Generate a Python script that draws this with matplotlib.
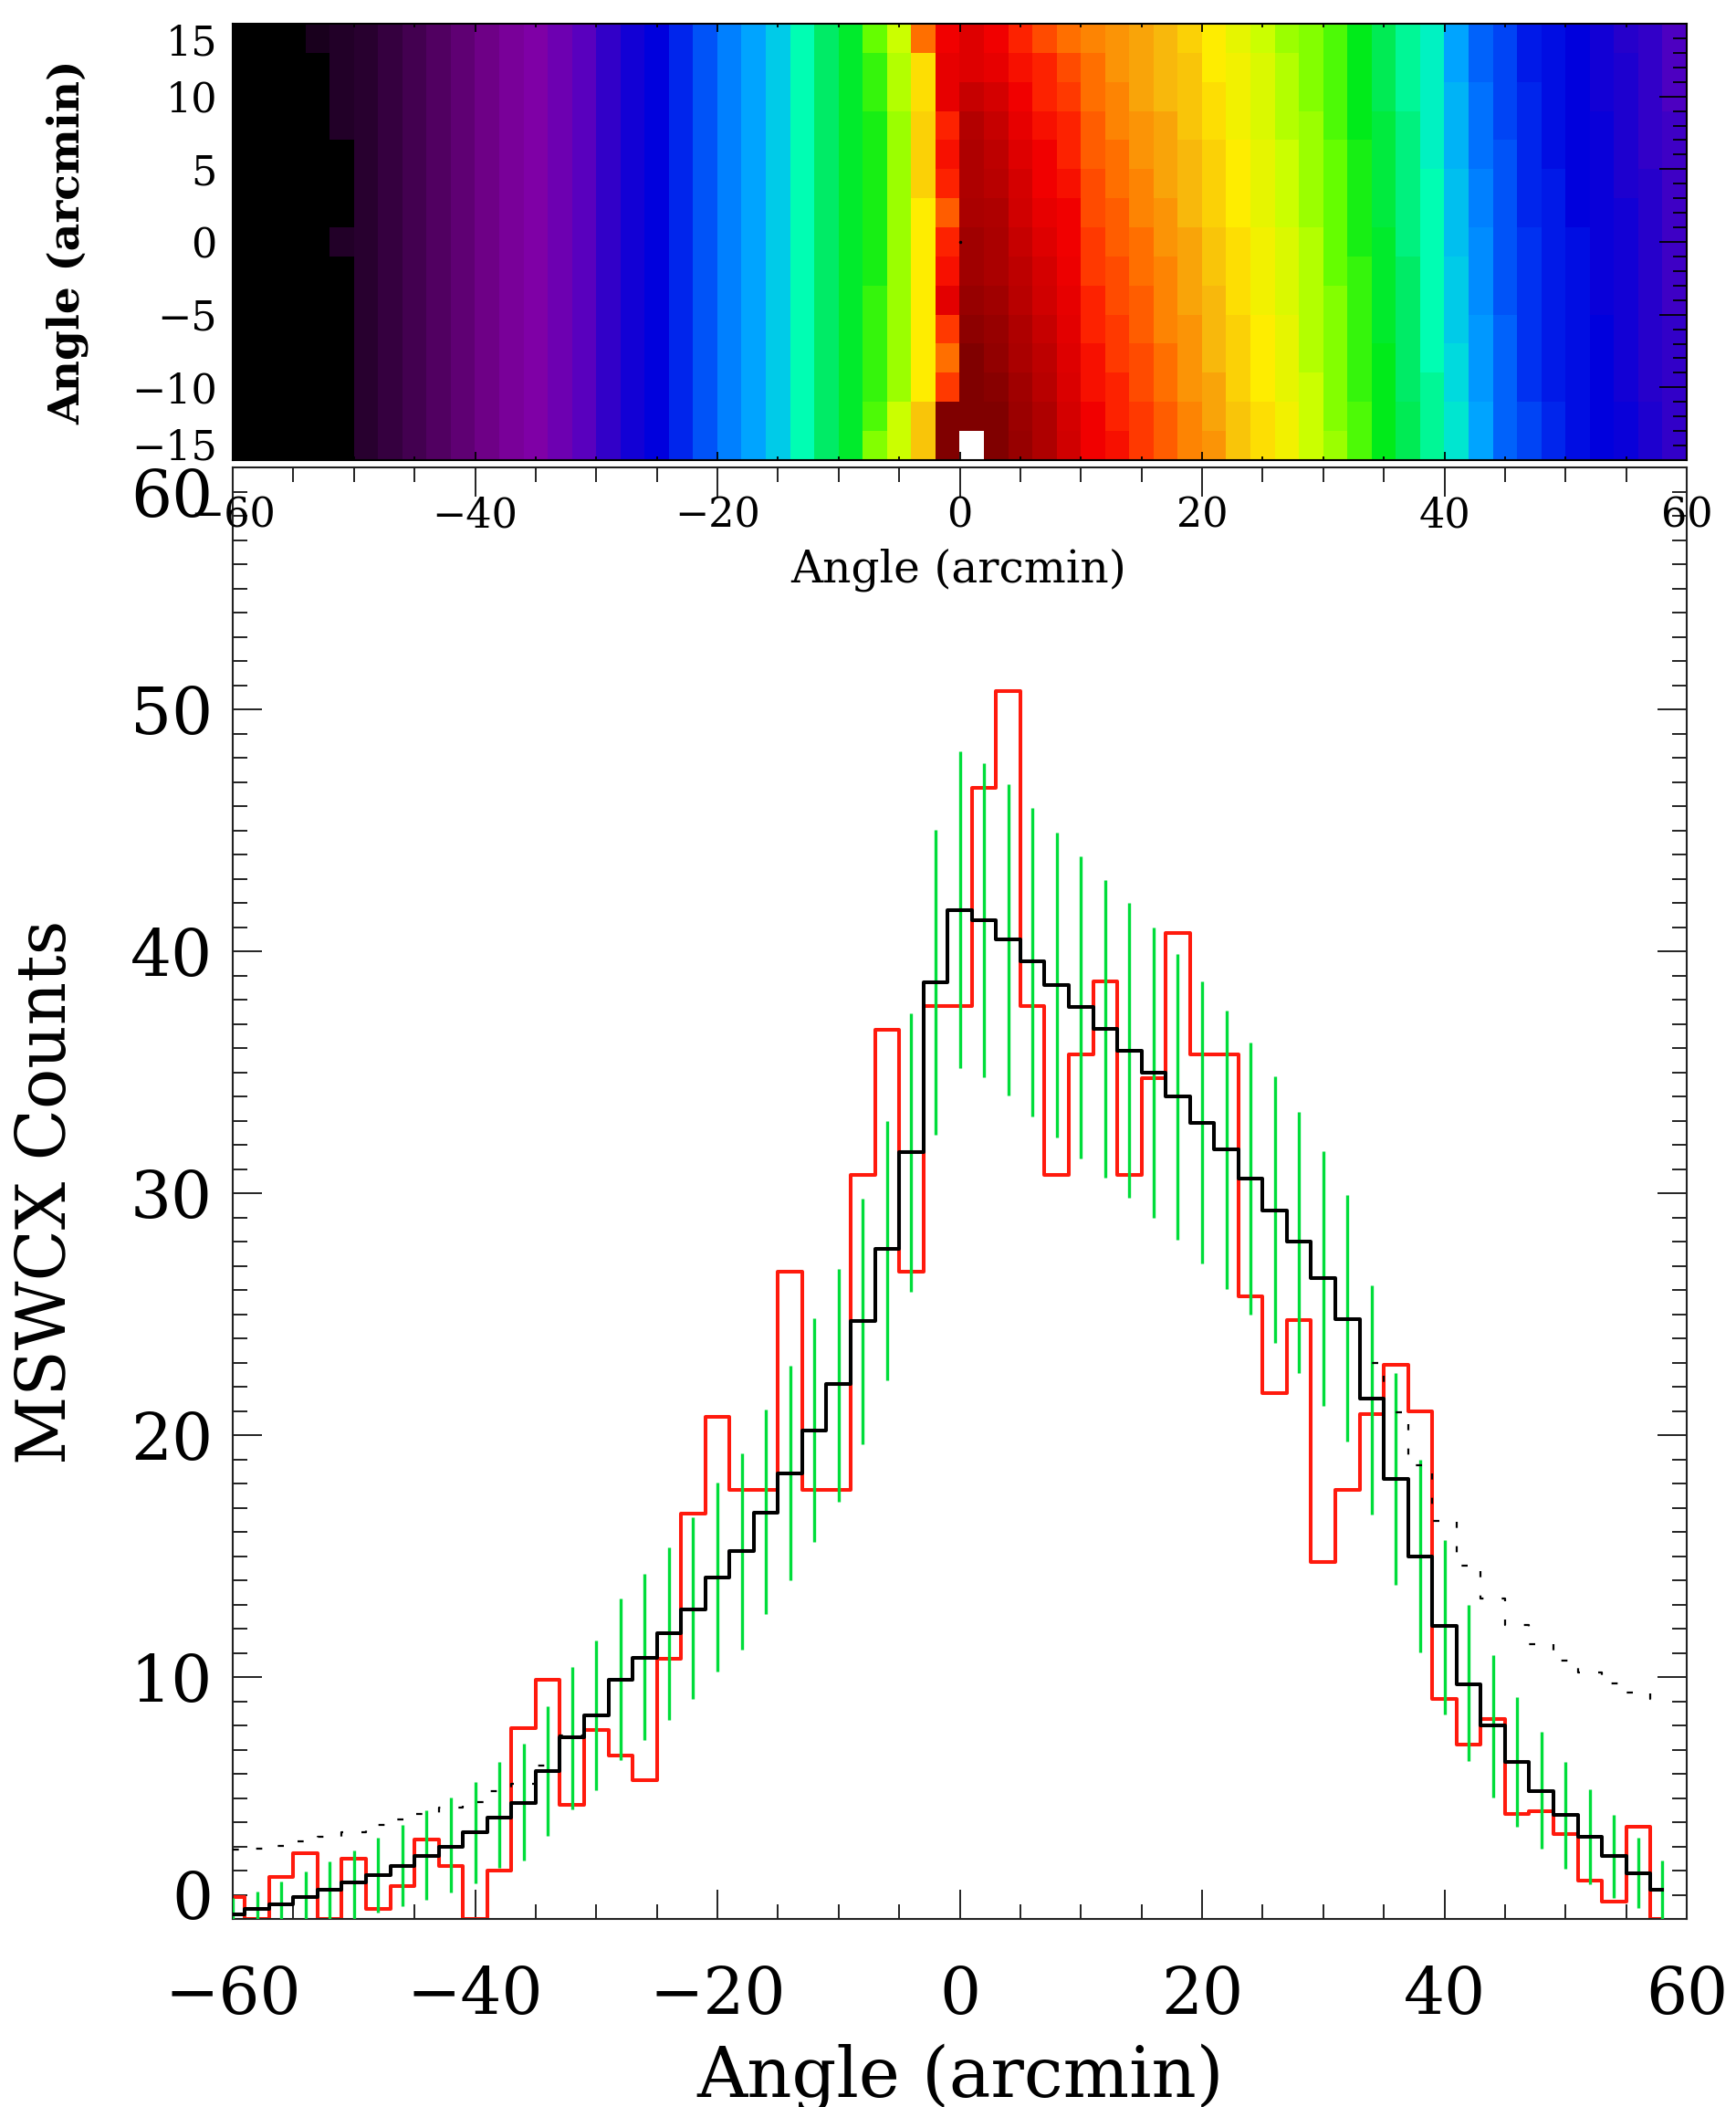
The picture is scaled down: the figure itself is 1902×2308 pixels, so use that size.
import numpy as np
import matplotlib
matplotlib.use('Agg')
import matplotlib.pyplot as plt
from matplotlib.colors import LinearSegmentedColormap
from matplotlib.ticker import MultipleLocator

plt.rcParams['font.family'] = ['DejaVu Serif']

# ---- profile data (bin centres, 2 arcmin bins) ----
angle = np.arange(-60, 60, 2)

model = [0.2, 0.4, 0.6, 0.9, 1.2, 1.5, 1.8, 2.2, 2.6, 3.0,
         3.6, 4.2, 4.8, 6.1, 7.5, 8.4, 9.9, 10.8, 11.8, 12.8,
         14.1, 15.2, 16.8, 18.4, 20.2, 22.1, 24.7, 27.7, 31.7, 38.7,
         41.7, 41.3, 40.5, 39.6, 38.6, 37.7, 36.8, 35.9, 35.0, 34.0,
         32.9, 31.8, 30.6, 29.3, 28.0, 26.5, 24.8, 21.5, 18.2, 15.0,
         12.1, 9.7, 8.0, 6.5, 5.3, 4.3, 3.4, 2.6, 1.9, 1.2]

counts = [0.9, 0.0, 1.75, 2.7, 0.0, 2.5, 0.4, 1.35, 3.3, 2.2,
          0.0, 2.0, 7.9, 9.9, 4.7, 7.8, 6.75, 5.75, 10.75, 16.75,
          20.75, 17.75, 17.75, 26.75, 17.75, 17.75, 30.75, 36.75, 26.75, 37.75,
          37.75, 46.75, 50.75, 37.75, 30.75, 35.75, 38.75, 30.75, 34.75, 40.75,
          35.75, 35.75, 25.75, 21.75, 24.75, 14.75, 17.75, 20.85, 22.9, 21.0,
          9.1, 7.2, 8.25, 4.35, 4.45, 3.5, 1.6, 0.7, 3.8, 0.0]

err_lo = [0, 0, 0, 0, 0, 0, 0.26, 0.51, 0.78, 1.11,
          1.48, 2.12, 2.42, 3.44, 4.54, 5.33, 6.57, 7.38, 8.21, 9.09,
          10.21, 11.15, 12.6, 13.99, 15.6, 17.24, 19.62, 22.27, 25.94, 32.42,
          35.18, 34.79, 34.02, 33.18, 32.32, 31.45, 30.63, 29.83, 28.97, 28.06,
          27.09, 26.05, 24.98, 23.81, 22.55, 21.21, 19.73, 16.7, 13.81, 11.02,
          8.47, 6.53, 5.01, 3.83, 2.89, 2.09, 1.45, 0.88, 0.47, 0]

err_hi = [0.86, 1.12, 1.56, 1.95, 2.38, 2.84, 3.35, 3.87, 4.48, 5.02,
          5.66, 6.48, 7.25, 8.8, 10.41, 11.5, 13.23, 14.26, 15.36, 16.6,
          18.03, 19.24, 21.06, 22.85, 24.84, 26.87, 29.77, 33.0, 37.42, 45.03,
          48.28, 47.79, 46.9, 45.92, 44.92, 43.93, 42.96, 42.0, 41.0, 39.9,
          38.76, 37.53, 36.22, 34.84, 33.36, 31.72, 29.92, 26.2, 22.57, 18.99,
          15.66, 12.98, 10.9, 9.17, 7.73, 6.48, 5.35, 4.31, 3.36, 2.41]

model_wide = [2.87, 2.9, 3.02, 3.21, 3.4, 3.6, 3.89, 4.11, 4.34, 4.59,
              4.84, 5.29, 5.59, 6.33, 7.6, 8.4, 9.9, 10.8, 11.8, 12.8,
              14.1, 15.2, 16.8, 18.4, 20.2, 22.1, 24.7, 27.7, 31.7, 38.7,
              41.7, 41.3, 40.5, 39.6, 38.6, 37.7, 36.8, 35.9, 35.0, 34.0,
              32.9, 31.8, 30.6, 29.3, 28.0, 26.5, 24.8, 22.97, 20.95, 18.75,
              16.44, 14.6, 13.24, 12.16, 11.37, 10.69, 10.17, 9.75, 9.37, 9.08]

# ---- map data: one list per 2-arcmin column (-60 .. 60), rows top -> bottom ----
nan = np.nan
map_cols = [
    [0] * 15, [0] * 15, [0] * 15,
    [5, 0, 0, 0, 0, 0, 0, 0, 0, 0, 0, 0, 0, 0, 0],
    [7, 7, 7, 7, 0, 0, 0, 7, 0, 0, 0, 0, 0, 0, 0],
    [8] * 15, [11] * 15, [14] * 15, [17] * 15, [20] * 15,
    [23] * 15, [27] * 15, [30] * 15, [33] * 15, [36] * 15,
    [39] * 15, [42] * 15, [44] * 15, [47] * 15, [50] * 15,
    [53] * 15, [56] * 15, [59] * 15, [63] * 15, [66] * 15,
    [69] * 15,
    [74, 72, 72, 71, 71, 71, 71, 71, 71, 72, 72, 72, 72, 73, 75],
    [78, 77, 77, 76, 76, 76, 76, 76, 76, 76, 76, 76, 76, 78, 78],
    [90, 83, 83, 84, 84, 84, 82, 82, 82, 82, 82, 82, 82, 85, 85],
    [96, 98, 98, 94, 95, 94, 91, 94, 95, 99, 93, 90, 93, 120, 120],
    [100, 100, 105, 109, 110, 110, 111, 113, 113, 115, 117, 120, 120, 120, nan],
    [96, 98, 102, 105, 107, 108, 110, 111, 111, 113, 115, 116, 118, 120, 120],
    [94, 95, 96, 98, 100, 102, 103, 105, 107, 108, 110, 111, 113, 114, 115],
    [92, 94, 94, 95, 96, 96, 98, 100, 102, 103, 105, 107, 108, 110, 110],
    [90, 92, 93, 94, 94, 95, 96, 96, 97, 98, 99, 100, 101, 102, 103],
    [89, 90, 90, 91, 91, 92, 92, 93, 93, 94, 94, 95, 95, 96, 96],
    [88, 88, 89, 89, 90, 90, 91, 91, 92, 92, 93, 93, 94, 94, 95],
    [87, 87, 87, 88, 88, 89, 89, 90, 90, 91, 91, 92, 92, 93, 93],
    [86, 86, 86, 87, 87, 87, 88, 88, 89, 89, 89, 90, 90, 91, 91],
    [84, 85, 85, 85, 86, 86, 86, 87, 87, 87, 88, 88, 88, 89, 89],
    [82, 82, 83, 83, 84, 84, 84, 85, 85, 86, 86, 86, 87, 87, 88],
    [80, 81, 81, 81, 82, 82, 82, 83, 83, 83, 84, 84, 84, 85, 85],
    [78, 79, 79, 79, 80, 80, 80, 81, 81, 81, 82, 82, 82, 83, 83],
    [76, 77, 77, 77, 78, 78, 78, 79, 79, 79, 80, 80, 80, 81, 81],
    [75, 75, 75, 76, 76, 76, 76, 77, 77, 77, 77, 77, 78, 78, 78],
    [73, 73, 73, 73, 74, 74, 74, 74, 74, 75, 75, 75, 75, 75, 76],
    [70, 70, 70, 70, 71, 71, 71, 71, 72, 72, 72, 72, 72, 73, 73],
    [67, 67, 67, 68, 68, 68, 68, 69, 69, 69, 69, 70, 70, 70, 70],
    [64, 64, 64, 65, 65, 65, 65, 65, 66, 66, 66, 66, 66, 67, 67],
    [62, 62, 62, 62, 62, 63, 63, 63, 63, 63, 63, 63, 64, 64, 64],
    [56, 56, 57, 57, 57, 58, 58, 58, 59, 59, 59, 60, 60, 61, 61],
    [51, 51, 52, 52, 52, 53, 53, 54, 54, 54, 55, 55, 55, 56, 56],
    [49, 49, 49, 49, 50, 50, 50, 50, 50, 50, 51, 51, 51, 51, 51],
    [46, 46, 47, 47, 47, 47, 47, 48, 48, 48, 48, 48, 48, 49, 49],
    [45, 45, 45, 45, 45, 46, 46, 46, 46, 46, 46, 46, 46, 47, 47],
    [44, 44, 44, 44, 44, 44, 44, 45, 45, 45, 45, 45, 45, 45, 45],
    [42, 42, 42, 43, 43, 43, 43, 43, 43, 43, 44, 44, 44, 44, 44],
    [40, 41, 41, 41, 41, 41, 42, 42, 42, 42, 42, 42, 42, 43, 43],
    [39, 39, 39, 39, 39, 40, 40, 40, 40, 40, 40, 40, 40, 41, 41],
    [37, 37, 37, 38, 38, 38, 38, 38, 38, 38, 39, 39, 39, 39, 39],
]
image = np.array(map_cols, dtype=float).T

# IDL-like rainbow running on into dark red
stops = [(0, '#000000'), (8, '#290030'), (16, '#4d005c'), (24, '#73008c'),
         (30, '#8000a6'), (36, '#5900bf'), (40, '#2600cc'), (44, '#0000de'),
         (48, '#0033f2'), (52, '#0073ff'), (56, '#00a6ff'), (60, '#00d9e0'),
         (63, '#00ffb3'), (66, '#00eb66'), (70, '#00eb1a'), (74, '#66ff00'),
         (78, '#ccff00'), (82, '#ffed00'), (86, '#f8b80d'), (90, '#ff7300'),
         (94, '#ff2600'), (96, '#f20000'), (120, '#800000')]
cmap = LinearSegmentedColormap.from_list('idl', [(p / 120.0, c) for p, c in stops], N=512)
cmap.set_bad('white')

W, H = 1902, 2308
fig = plt.figure(figsize=(W / 100, H / 100), dpi=100)

def px_axes(left, top, right, bottom):
    return fig.add_axes([left / W, 1 - bottom / H, (right - left) / W, (bottom - top) / H])

def minus(v):
    return str(v).replace('-', '\u2212')

# ---- bottom panel: counts profile ----
ax2 = px_axes(255, 512, 1848, 2102)
ax2.step(angle, counts, where='mid', color='#ff1a0d', lw=2.9, zorder=2)
ax2.vlines(angle, err_lo, err_hi, color='#00dd3a', lw=2.4, zorder=3)
ax2.step(angle, model, where='mid', color='black', lw=2.9, zorder=4)
ax2.step(angle, model_wide, where='mid', color='black', lw=1.6,
         linestyle=(0, (3, 9)), zorder=5)
ax2.set_xlim(-60, 60)
ax2.set_ylim(0, 60)
ax2.xaxis.set_major_locator(MultipleLocator(20))
ax2.xaxis.set_minor_locator(MultipleLocator(5))
ax2.yaxis.set_major_locator(MultipleLocator(10))
ax2.yaxis.set_minor_locator(MultipleLocator(1))
ax2.tick_params(which='both', direction='in', top=True, right=True, width=1.4, color='#222222')
ax2.tick_params(which='major', length=23)
ax2.tick_params(which='minor', length=11.5)
ax2.tick_params(axis='x', labelsize=51, pad=36)
ax2.tick_params(axis='y', labelleft=False)
ax2.set_xticks([-60, -40, -20, 0, 20, 40, 60])
ax2.set_xticklabels([minus(v) for v in [-60, -40, -20, 0, 20, 40, 60]])
for s in ax2.spines.values():
    s.set_linewidth(1.5)
    s.set_color('#222222')
for v in range(0, 61, 10):
    va = 'baseline' if v == 0 else ('top' if v == 60 else 'center_baseline')
    ax2.text(-0.0138, v, str(v), transform=ax2.get_yaxis_transform(),
             ha='right', va=va, fontsize=51)

# ---- top panel: angular map ----
ax1 = px_axes(255, 26, 1848, 504)
ax1.imshow(image, cmap=cmap, vmin=0, vmax=120, extent=[-60, 60, -15, 15],
           aspect='auto', interpolation='nearest', origin='upper')
ax1.plot([0], [0], 'k.', ms=3)
ax1.set_xlim(-60, 60)
ax1.set_ylim(-15, 15)
ax1.xaxis.set_major_locator(MultipleLocator(20))
ax1.xaxis.set_minor_locator(MultipleLocator(5))
ax1.yaxis.set_major_locator(MultipleLocator(5))
ax1.yaxis.set_minor_locator(MultipleLocator(1))
ax1.tick_params(which='both', direction='in', top=True, right=True, width=1.3)
ax1.tick_params(axis='x', which='major', length=6.5, labelsize=32, pad=28)
ax1.tick_params(axis='x', which='minor', length=3.2)
ax1.tick_params(axis='y', which='major', length=21.6)
ax1.tick_params(axis='y', which='minor', length=10.8)
ax1.tick_params(axis='y', labelleft=False)
ax1.set_xticks([-60, -40, -20, 0, 20, 40, 60])
ax1.set_xticklabels([minus(v) for v in [-60, -40, -20, 0, 20, 40, 60]])
for s in ax1.spines.values():
    s.set_linewidth(1.5)
for v in range(-15, 16, 5):
    va = 'baseline' if v == -15 else ('top' if v == 15 else 'center_baseline')
    ax1.text(-0.0107, v, minus(v), transform=ax1.get_yaxis_transform(),
             ha='right', va=va, fontsize=32)

# ---- axis titles ----
fig.text(1050 / W, 1 - 638 / H, 'Angle (arcmin)', ha='center', va='baseline', fontsize=35)
fig.text(74 / W, 1 - 265 / H, 'Angle (arcmin)', ha='center', va='center',
         rotation=90, fontsize=34, fontweight='bold')
fig.text(1052 / W, 1 - 2297 / H, 'Angle (arcmin)', ha='center', va='baseline', fontsize=55)
fig.text(52 / W, 1 - 1306 / H, 'MSWCX Counts', ha='center', va='center',
         rotation=90, fontsize=53)

fig.savefig('out.png', dpi=100)
